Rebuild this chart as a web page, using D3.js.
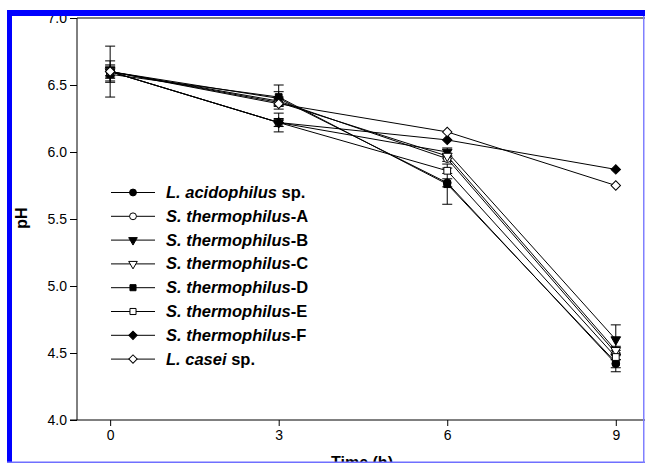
<!DOCTYPE html>
<html>
<head>
<meta charset="utf-8">
<script src="https://cdn.jsdelivr.net/npm/d3@7"></script>
<style>
  body { margin: 0; background: #fff; }
  svg { display: block; font-family: Arial, "Liberation Sans", sans-serif; }
</style>
</head>
<body>
<svg id="chart" width="645" height="465"></svg>
<script>
// sampling times (h)
var times = [0, 3, 6, 9];
var xTicks = [0, 3, 6, 9];
var yTicks = [4.0, 4.5, 5.0, 5.5, 6.0, 6.5, 7.0];

// pH per strain
var acidophilusPH = [6.60, 6.40, 5.77, 4.42];
var thermoA_PH    = [6.60, 6.38, 5.95, 4.50];
var thermoB_PH    = [6.60, 6.22, 6.00, 4.60];
var thermoC_PH    = [6.60, 6.37, 5.97, 4.52];
var thermoD_PH    = [6.58, 6.41, 5.76, 4.43];
var thermoE_PH    = [6.60, 6.22, 5.86, 4.47];
var thermoF_PH    = [6.60, 6.22, 6.09, 5.87];
var caseiPH       = [6.60, 6.36, 6.15, 5.75];

// standard deviations (error bars)
var acidophilusSD = [0.08, 0.05, 0.03, 0.03];
var thermoA_SD    = [0.19, 0.03, 0.02, 0.02];
var thermoB_SD    = [0.05, 0.07, 0.03, 0.11];
var thermoC_SD    = [0.04, 0.03, 0.02, 0.03];
var thermoD_SD    = [0.05, 0.09, 0.15, 0.07];
var thermoE_SD    = [0.03, 0.03, 0.02, 0.02];
var thermoF_SD    = [0.00, 0.00, 0.00, 0.00];
var caseiSD       = [0.00, 0.00, 0.00, 0.00];

var seriesNames = [
    ["L. acidophilus", " sp."],
    ["S. thermophilus", "-A"],
    ["S. thermophilus", "-B"],
    ["S. thermophilus", "-C"],
    ["S. thermophilus", "-D"],
    ["S. thermophilus", "-E"],
    ["S. thermophilus", "-F"],
    ["L. casei", " sp."]
];
var seriesValues = [acidophilusPH, thermoA_PH, thermoB_PH, thermoC_PH,
                    thermoD_PH, thermoE_PH, thermoF_PH, caseiPH];
var seriesErrors = [acidophilusSD, thermoA_SD, thermoB_SD, thermoC_SD,
                    thermoD_SD, thermoE_SD, thermoF_SD, caseiSD];
var markerShapes = ["circle", "circle", "triangle", "triangle",
                    "square", "square", "diamond", "diamond"];
var markerFilled = [true, false, true, false, true, false, true, false];

var svg = d3.select("#chart");

// plot box (note: "top" is taken by window.top, so use other names)
var plotLeft = 77, plotTop = 18, plotBottom = 420, plotRight = 645;

var x = d3.scaleLinear().domain([-0.59, 9.52]).range([plotLeft, plotRight]);
var y = d3.scaleLinear().domain([4, 7]).range([plotBottom, plotTop]);

// marker outline for each shape
function symbolPath(shape, k) {
    switch (shape) {
        case "circle":
        return d3.symbol().type(d3.symbolCircle).size(46 * k)();
        case "triangle":
        return d3.symbol().type(d3.symbolTriangle).size(40 * k)();
        case "square":
        return d3.symbol().type(d3.symbolSquare).size(46 * k)();
        case "diamond":
        return d3.symbol().type(d3.symbolSquare).size(44 * k)();
    }
}

function drawMarker(g, i, cx, cy, k) {
    var rot = "";
    if (markerShapes[i] == "triangle") rot = " rotate(180)";   // points down
    if (markerShapes[i] == "diamond") rot = " rotate(45)";
    g.append("path")
        .attr("d", symbolPath(markerShapes[i], k))
        .attr("fill", markerFilled[i] ? "#000" : "#fff")
        .attr("stroke", "#000")
        .attr("stroke-width", 1)
        .attr("transform", "translate(" + cx + "," + cy + ")" + rot);
}

// axes
var yAxis = d3.axisLeft(y).tickValues(yTicks).tickFormat(d3.format(".1f"))
    .tickSize(7).tickPadding(3);
var xAxis = d3.axisBottom(x).tickValues(xTicks).tickFormat(d3.format("d"))
    .tickSize(6).tickPadding(4);

var gy = svg.append("g").attr("transform", "translate(" + plotLeft + ",0)").call(yAxis);
var gx = svg.append("g").attr("transform", "translate(0," + plotBottom + ")").call(xAxis);
[gy, gx].forEach(function(g) {
    g.select(".domain").remove();
    g.selectAll("line").attr("stroke", "#000");
    g.selectAll("text").attr("fill", "#000").style("font-size", "14px");
});

// frame lines
svg.append("line").attr("x1", plotLeft).attr("x2", plotLeft)
    .attr("y1", plotTop).attr("y2", plotBottom).attr("stroke", "#000");
svg.append("line").attr("x1", plotLeft - 7).attr("x2", plotRight)
    .attr("y1", plotBottom).attr("y2", plotBottom).attr("stroke", "#000");
svg.append("line").attr("x1", plotLeft).attr("x2", plotRight)
    .attr("y1", plotTop).attr("y2", plotTop).attr("stroke", "#000");

// series lines
var line = d3.line()
    .x(function(d, i) { return x(times[i]); })
    .y(function(d) { return y(d); });

var plot = svg.append("g");
seriesValues.forEach(function(vals) {
    plot.append("path")
        .attr("d", line(vals))
        .attr("fill", "none")
        .attr("stroke", "#000")
        .attr("stroke-width", 1);
});

// error bars
seriesValues.forEach(function(vals, s) {
    vals.forEach(function(v, i) {
        var sd = seriesErrors[s][i];
        if (sd <= 0) return;
        var cx = x(times[i]);
        var y1 = y(v + sd), y2 = y(v - sd);
        plot.append("line").attr("x1", cx).attr("x2", cx).attr("y1", y1).attr("y2", y2)
            .attr("stroke", "#000");
        [y1, y2].forEach(function(cy) {
            plot.append("line").attr("x1", cx - 5).attr("x2", cx + 5)
                .attr("y1", cy).attr("y2", cy).attr("stroke", "#000");
        });
    });
});

// markers
seriesValues.forEach(function(vals, s) {
    vals.forEach(function(v, i) {
        drawMarker(plot, s, x(times[i]), y(v), 1);
    });
});

// legend
var legend = svg.append("g");
seriesNames.forEach(function(name, i) {
    var ly = 192.5 + i * 23.8;
    legend.append("line").attr("x1", 111).attr("x2", 155).attr("y1", ly).attr("y2", ly)
        .attr("stroke", "#000");
    drawMarker(legend, i, 133, ly, 0.8);
    var t = legend.append("text").attr("x", 166).attr("y", ly + 5.5)
        .style("font-size", "16.5px").style("font-weight", "bold");
    t.append("tspan").style("font-style", "italic").text(name[0]);
    t.append("tspan").text(name[1]);
});

// axis titles
svg.append("text")
    .attr("transform", "translate(27,218) rotate(-90)")
    .attr("text-anchor", "middle")
    .style("font-size", "16px").style("font-weight", "bold")
    .text("pH");
svg.append("text")
    .attr("x", 362).attr("y", 468)
    .attr("text-anchor", "middle")
    .style("font-size", "16px").style("font-weight", "bold")
    .text("Time (h)");

// blue page frame drawn on top
svg.append("rect").attr("x", 0).attr("y", 463).attr("width", 645).attr("height", 2).attr("fill", "#fff");
svg.append("rect").attr("x", 7).attr("y", 10).attr("width", 638).attr("height", 6).attr("fill", "#0000ff");
svg.append("rect").attr("x", 7).attr("y", 10).attr("width", 5).attr("height", 453).attr("fill", "#0000ff");
svg.append("rect").attr("x", 7).attr("y", 461.5).attr("width", 638).attr("height", 1.5).attr("fill", "#6f6fff");
svg.append("rect").attr("x", 643).attr("y", 16).attr("width", 1.5).attr("height", 447).attr("fill", "#8080ff");
</script>
</body>
</html>
